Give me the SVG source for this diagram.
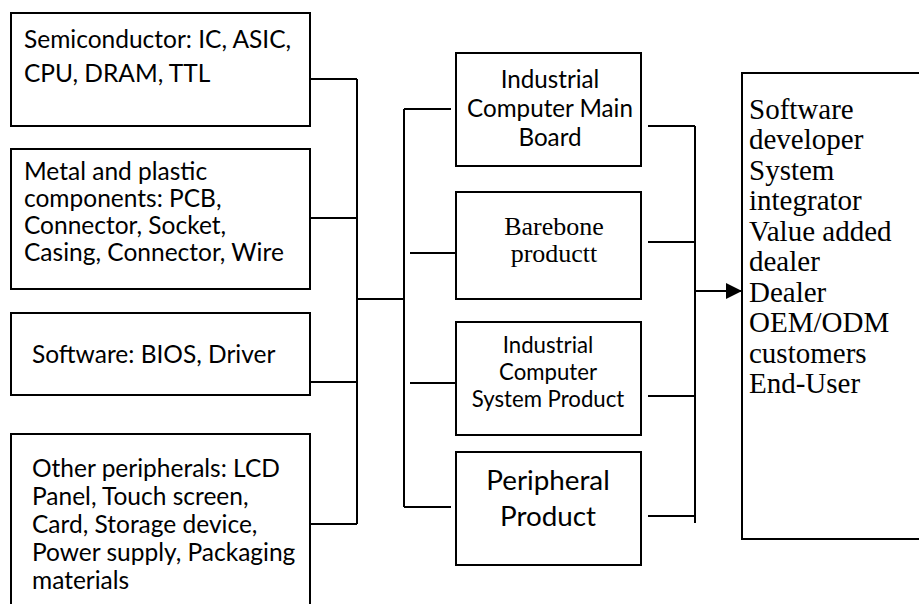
<svg xmlns="http://www.w3.org/2000/svg" width="919" height="604" viewBox="0 0 919 604">
  <defs>
    <style>
      .box { fill: #ffffff; stroke: #000000; stroke-width: 2; }
      .ln { fill: none; stroke: #000000; stroke-width: 2; }
      .cal { font-family: Lato, "Open Sans", "Liberation Sans", sans-serif; fill: #000000; }
      .left { font-size: 24.5px; }
      .tnr { font-family: "Liberation Serif", "Times New Roman", serif; fill: #000000; }
    </style>
    <marker id="arrow" viewBox="0 0 16 16" refX="16" refY="8" markerWidth="16" markerHeight="16" markerUnits="userSpaceOnUse" orient="auto">
      <path d="M0,0 L16,8 L0,16 Z" fill="#000000"/>
    </marker>
  </defs>
  <rect width="919" height="604" fill="#ffffff"/>

  <g id="connectors">
    <path class="ln" d="M310,79 H357 M310,218 H357 M310,382 H357 M310,524 H357 M357,79 V524 M357,299 H404"/>
    <path class="ln" d="M404,109 V507 M404,109 H451 M404,507 H451 M410,253 H456 M410,383 H456"/>
    <path class="ln" d="M648,126 H695 M648,242 H695 M648,396 H695 M648,516 H695 M695,126 V523"/>
    <path class="ln" d="M695,291 H742" marker-end="url(#arrow)"/>
  </g>

  <g id="semiconductor">
    <rect class="box" x="11" y="13" width="299" height="113"/>
    <text class="cal left" x="24" y="48">Semiconductor: IC, ASIC,</text>
    <text class="cal left" x="24" y="82">CPU, DRAM, TTL</text>
  </g>

  <g id="metal-plastic">
    <rect class="box" x="11" y="149" width="299" height="140"/>
    <text class="cal left" x="24" y="180">Metal and plastic</text>
    <text class="cal left" x="24" y="207">components: PCB,</text>
    <text class="cal left" x="24" y="234">Connector, Socket,</text>
    <text class="cal left" x="24" y="261">Casing, Connector, Wire</text>
  </g>

  <g id="software">
    <rect class="box" x="11" y="313" width="299" height="82"/>
    <text class="cal left" x="32" y="363">Software: BIOS, Driver</text>
  </g>

  <g id="other-peripherals">
    <rect class="box" x="11" y="434" width="299" height="200"/>
    <text class="cal left" x="32" y="477">Other peripherals: LCD</text>
    <text class="cal left" x="32" y="505">Panel, Touch screen,</text>
    <text class="cal left" x="32" y="533">Card, Storage device,</text>
    <text class="cal left" x="32" y="561">Power supply, Packaging</text>
    <text class="cal left" x="32" y="589">materials</text>
  </g>

  <g id="main-board">
    <rect class="box" x="456" y="53" width="185" height="113"/>
    <text class="cal" font-size="24.2" x="550" y="88" text-anchor="middle">Industrial</text>
    <text class="cal" font-size="24.2" x="550" y="117" text-anchor="middle">Computer Main</text>
    <text class="cal" font-size="24.2" x="550" y="146" text-anchor="middle">Board</text>
  </g>

  <g id="barebone">
    <rect class="box" x="456" y="192" width="185" height="107"/>
    <text class="tnr" font-size="26" x="554" y="235" text-anchor="middle">Barebone</text>
    <text class="tnr" font-size="26" x="554" y="262" text-anchor="middle">productt</text>
  </g>

  <g id="system-product">
    <rect class="box" x="456" y="322" width="185" height="113"/>
    <text class="cal" font-size="22.2" x="548" y="353" text-anchor="middle">Industrial</text>
    <text class="cal" font-size="22.2" x="548" y="380" text-anchor="middle">Computer</text>
    <text class="cal" font-size="22.2" x="548" y="407" text-anchor="middle">System Product</text>
  </g>

  <g id="peripheral-product">
    <rect class="box" x="456" y="452" width="185" height="113"/>
    <text class="cal" font-size="27.8" x="548" y="490" text-anchor="middle">Peripheral</text>
    <text class="cal" font-size="27.8" x="548" y="526" text-anchor="middle">Product</text>
  </g>

  <g id="customers">
    <rect class="box" x="742" y="73" width="200" height="466"/>
    <text class="tnr" font-size="29">
      <tspan x="749" y="119">Software</tspan>
      <tspan x="749" y="149">developer</tspan>
      <tspan x="749" y="180">System</tspan>
      <tspan x="749" y="210">integrator</tspan>
      <tspan x="749" y="241">Value added</tspan>
      <tspan x="749" y="271">dealer</tspan>
      <tspan x="749" y="302">Dealer</tspan>
      <tspan x="749" y="332">OEM/ODM</tspan>
      <tspan x="749" y="363">customers</tspan>
      <tspan x="749" y="393">End-User</tspan>
    </text>
  </g>
</svg>
